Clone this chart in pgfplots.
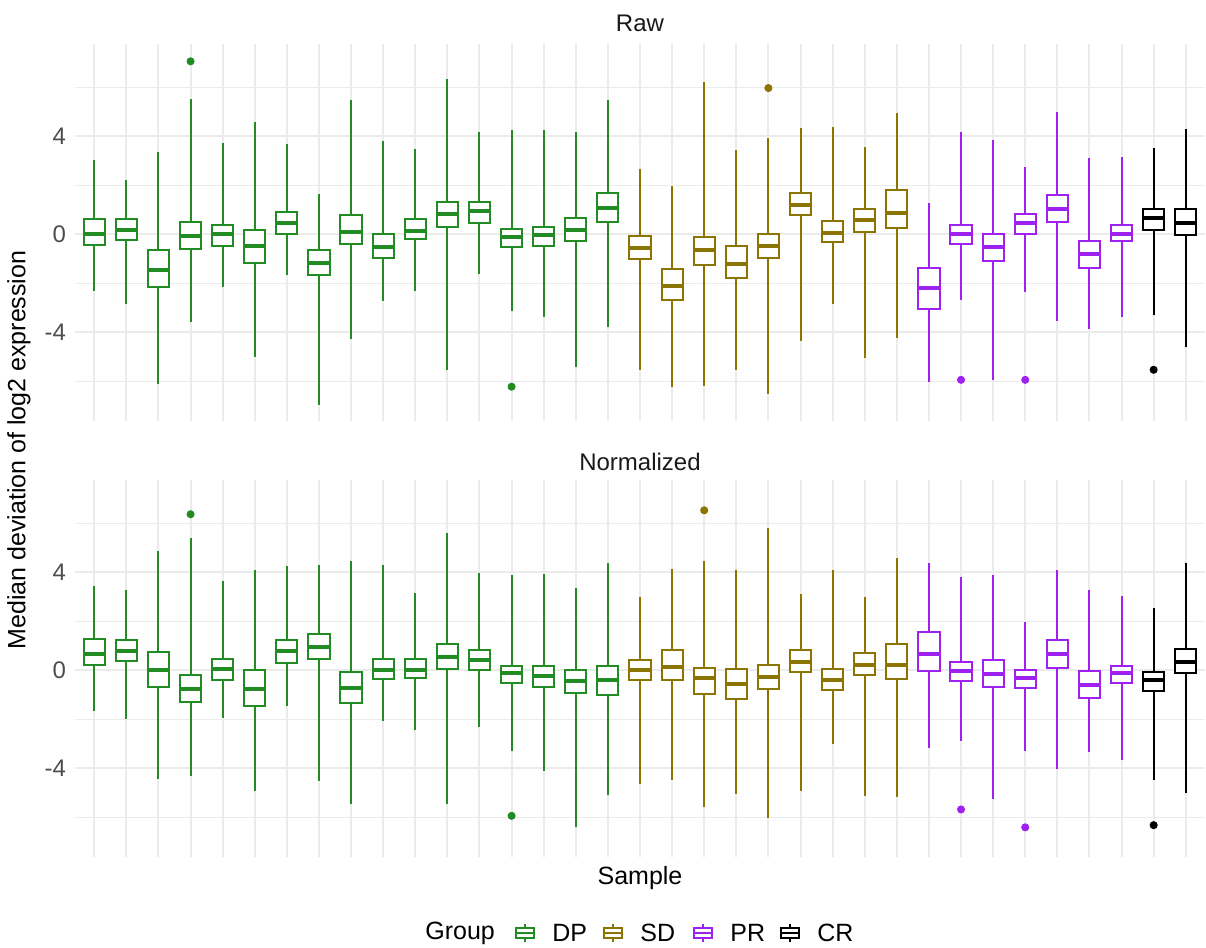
\documentclass[border=0pt]{standalone}
\usepackage{fontspec}
\setmainfont{Liberation Sans}
\usepackage{pgfplots}
\pgfplotsset{compat=1.18}
\usepgfplotslibrary{statistics}
\definecolor{cDP}{HTML}{228B22}
\definecolor{cSD}{HTML}{8B7500}
\definecolor{cPR}{HTML}{A020F0}
\definecolor{cCR}{HTML}{000000}
\definecolor{gridc}{HTML}{EBEBEB}
\definecolor{tickc}{HTML}{4D4D4D}
\newcommand{\bx}[7]{\addplot[#1, fill=white, boxplot prepared={draw direction=y, draw position=#2, lower whisker=#3, lower quartile=#4, median=#5, upper quartile=#6, upper whisker=#7}] coordinates {};}
\pgfplotsset{
  panel/.style={
    scale only axis, width=565pt, height=188.4pt, anchor=south west,
    xmin=0.4, xmax=35.6, ymin=-7.63, ymax=7.75,
    xtick={1,...,35}, xticklabels={},
    ytick={-4,0,4}, yticklabels={-4,0,4},
    minor ytick={-6,-2,2,6},
    grid=both,
    major grid style={draw=gridc, line width=1pt},
    minor grid style={draw=gridc, line width=0.55pt},
    axis line style={draw=none},
    major tick length=0pt, minor tick length=0pt,
    tick style={draw=none},
    yticklabel style={font=\fontsize{12}{14}\selectfont, text=tickc, xshift=-1pt},
    boxplot/draw direction=y,
    boxplot/box extend=0.66,
    boxplot/whisker extend=0,
    boxplot/every box/.style={line width=1pt},
    boxplot/every whisker/.style={line width=1pt},
    boxplot/every median/.style={line width=2pt},
    clip=false,
  },
  outl/.style={only marks, mark=*, mark size=1.8pt, mark options={draw=#1, fill=#1}},
}
\begin{document}
\begin{tikzpicture}
\path[use as bounding box] (0,0) rectangle (603pt,474pt);
% ---------------- Raw ----------------
\begin{axis}[panel, at={(37.5pt,263.5pt)}]
\bx{cDP}{1}{-2.34}{-0.45}{0.01}{0.63}{3.03}
\bx{cDP}{2}{-2.86}{-0.23}{0.16}{0.63}{2.22}
\bx{cDP}{3}{-6.10}{-2.18}{-1.47}{-0.65}{3.35}
\bx{cDP}{4}{-3.59}{-0.61}{-0.07}{0.48}{5.52}
\bx{cDP}{5}{-2.16}{-0.50}{-0.01}{0.35}{3.70}
\bx{cDP}{6}{-5.03}{-1.20}{-0.48}{0.18}{4.59}
\bx{cDP}{7}{-1.66}{-0.01}{0.45}{0.91}{3.67}
\bx{cDP}{8}{-6.97}{-1.69}{-1.17}{-0.64}{1.65}
\bx{cDP}{9}{-4.27}{-0.39}{0.10}{0.79}{5.47}
\bx{cDP}{10}{-2.72}{-0.99}{-0.53}{0.00}{3.78}
\bx{cDP}{11}{-2.34}{-0.19}{0.14}{0.60}{3.47}
\bx{cDP}{12}{-5.54}{0.30}{0.82}{1.29}{6.34}
\bx{cDP}{13}{-1.62}{0.46}{0.93}{1.32}{4.18}
\bx{cDP}{14}{-3.13}{-0.53}{-0.14}{0.22}{4.26}
\bx{cDP}{15}{-3.40}{-0.49}{-0.04}{0.27}{4.26}
\bx{cDP}{16}{-5.44}{-0.29}{0.16}{0.64}{4.15}
\bx{cDP}{17}{-3.81}{0.50}{1.07}{1.66}{5.46}
\bx{cSD}{18}{-5.54}{-1.01}{-0.56}{-0.08}{2.67}
\bx{cSD}{19}{-6.24}{-2.71}{-2.10}{-1.41}{1.95}
\bx{cSD}{20}{-6.22}{-1.28}{-0.65}{-0.12}{6.20}
\bx{cSD}{21}{-5.54}{-1.80}{-1.21}{-0.49}{3.43}
\bx{cSD}{22}{-6.53}{-0.98}{-0.49}{0.00}{3.92}
\bx{cSD}{23}{-4.35}{0.76}{1.20}{1.69}{4.34}
\bx{cSD}{24}{-2.86}{-0.33}{0.04}{0.53}{4.39}
\bx{cSD}{25}{-5.07}{0.10}{0.56}{1.02}{3.56}
\bx{cSD}{26}{-4.24}{0.24}{0.88}{1.80}{4.95}
\bx{cPR}{27}{-6.03}{-3.06}{-2.20}{-1.37}{1.25}
\bx{cPR}{28}{-2.69}{-0.42}{0.01}{0.35}{4.15}
\bx{cPR}{29}{-5.95}{-1.12}{-0.54}{0.00}{3.85}
\bx{cPR}{30}{-2.37}{0.01}{0.45}{0.82}{2.72}
\bx{cPR}{31}{-3.54}{0.49}{1.02}{1.59}{4.98}
\bx{cPR}{32}{-3.88}{-1.39}{-0.82}{-0.30}{3.10}
\bx{cPR}{33}{-3.40}{-0.29}{0.01}{0.39}{3.16}
\bx{cCR}{34}{-3.32}{0.16}{0.65}{1.01}{3.51}
\bx{cCR}{35}{-4.61}{-0.03}{0.45}{1.02}{4.29}
\addplot[outl=cDP] coordinates {(4,7.05) (14,-6.23)};
\addplot[outl=cSD] coordinates {(22,5.96)};
\addplot[outl=cPR] coordinates {(28,-5.95) (30,-5.95)};
\addplot[outl=cCR] coordinates {(34,-5.54)};
\end{axis}
% ---------------- Normalized ----------------
\begin{axis}[panel, at={(37.5pt,45.5pt)}]
\bx{cDP}{1}{-1.68}{0.22}{0.66}{1.26}{3.44}
\bx{cDP}{2}{-2.00}{0.37}{0.76}{1.22}{3.25}
\bx{cDP}{3}{-4.45}{-0.69}{0.00}{0.73}{4.84}
\bx{cDP}{4}{-4.34}{-1.32}{-0.77}{-0.22}{5.40}
\bx{cDP}{5}{-1.97}{-0.41}{0.05}{0.46}{3.62}
\bx{cDP}{6}{-4.95}{-1.45}{-0.76}{0.00}{4.09}
\bx{cDP}{7}{-1.46}{0.30}{0.77}{1.22}{4.26}
\bx{cDP}{8}{-4.54}{0.45}{0.96}{1.49}{4.30}
\bx{cDP}{9}{-5.45}{-1.33}{-0.72}{-0.08}{4.47}
\bx{cDP}{10}{-2.07}{-0.38}{0.00}{0.45}{4.27}
\bx{cDP}{11}{-2.45}{-0.33}{0.01}{0.45}{3.13}
\bx{cDP}{12}{-5.48}{0.05}{0.54}{1.06}{5.60}
\bx{cDP}{13}{-2.31}{0.00}{0.43}{0.83}{3.95}
\bx{cDP}{14}{-3.29}{-0.53}{-0.14}{0.18}{3.89}
\bx{cDP}{15}{-4.12}{-0.68}{-0.23}{0.15}{3.91}
\bx{cDP}{16}{-6.40}{-0.94}{-0.46}{0.00}{3.36}
\bx{cDP}{17}{-5.10}{-1.00}{-0.41}{0.16}{4.39}
\bx{cSD}{18}{-4.66}{-0.39}{0.00}{0.43}{2.98}
\bx{cSD}{19}{-4.49}{-0.41}{0.14}{0.80}{4.11}
\bx{cSD}{20}{-5.60}{-0.99}{-0.31}{0.09}{4.45}
\bx{cSD}{21}{-5.04}{-1.18}{-0.58}{0.03}{4.09}
\bx{cSD}{22}{-6.02}{-0.76}{-0.27}{0.22}{5.80}
\bx{cSD}{23}{-4.94}{-0.07}{0.34}{0.81}{3.12}
\bx{cSD}{24}{-3.02}{-0.83}{-0.39}{0.04}{4.09}
\bx{cSD}{25}{-5.14}{-0.22}{0.22}{0.69}{2.98}
\bx{cSD}{26}{-5.19}{-0.37}{0.22}{1.07}{4.57}
\bx{cPR}{27}{-3.17}{-0.05}{0.66}{1.55}{4.38}
\bx{cPR}{28}{-2.89}{-0.43}{-0.03}{0.31}{3.78}
\bx{cPR}{29}{-5.26}{-0.71}{-0.16}{0.41}{3.89}
\bx{cPR}{30}{-3.29}{-0.73}{-0.31}{0.01}{1.97}
\bx{cPR}{31}{-4.03}{0.08}{0.64}{1.21}{4.07}
\bx{cPR}{32}{-3.36}{-1.15}{-0.62}{-0.04}{3.27}
\bx{cPR}{33}{-3.66}{-0.52}{-0.12}{0.18}{3.04}
\bx{cCR}{34}{-4.50}{-0.84}{-0.41}{-0.07}{2.52}
\bx{cCR}{35}{-5.03}{-0.12}{0.34}{0.88}{4.39}
\addplot[outl=cDP] coordinates {(4,6.36) (14,-5.95)};
\addplot[outl=cSD] coordinates {(20,6.52)};
\addplot[outl=cPR] coordinates {(28,-5.69) (30,-6.42)};
\addplot[outl=cCR] coordinates {(34,-6.33)};
\end{axis}
% titles and labels
\node[font=\fontsize{12}{14}\selectfont, text=black!90] at (320pt,462.5pt) {Raw};
\node[font=\fontsize{12}{14}\selectfont, text=black!90] at (320pt,243pt) {Normalized};
\node[font=\fontsize{12.5}{14}\selectfont] at (320pt,35pt) {Sample};
\node[font=\fontsize{12.5}{14}\selectfont, rotate=90] at (9.5pt,249pt) {Median deviation of log2 expression};
% legend
\node[font=\fontsize{12.5}{14}\selectfont, anchor=west, inner sep=0pt] at (212.5pt,7.5pt) {Group};
\foreach \cx/\col/\lab in {262.5/cDP/DP, 306.5/cSD/SD, 351.5/cPR/PR, 395/cCR/CR}{
  \draw[\col, line width=0.6pt, fill=white] (\cx pt-4.5pt,5pt) rectangle (\cx pt+4.5pt,10pt);
  \draw[\col, line width=0.6pt] (\cx pt-4.5pt,7.5pt) -- (\cx pt+4.5pt,7.5pt);
  \draw[\col, line width=0.6pt] (\cx pt,10pt) -- (\cx pt,12pt) (\cx pt,5pt) -- (\cx pt,3pt);
  \node[font=\fontsize{12.5}{14}\selectfont, anchor=west, inner sep=0pt] at (\cx pt+13.5pt,7.5pt) {\lab};
}
\end{tikzpicture}
\end{document}
